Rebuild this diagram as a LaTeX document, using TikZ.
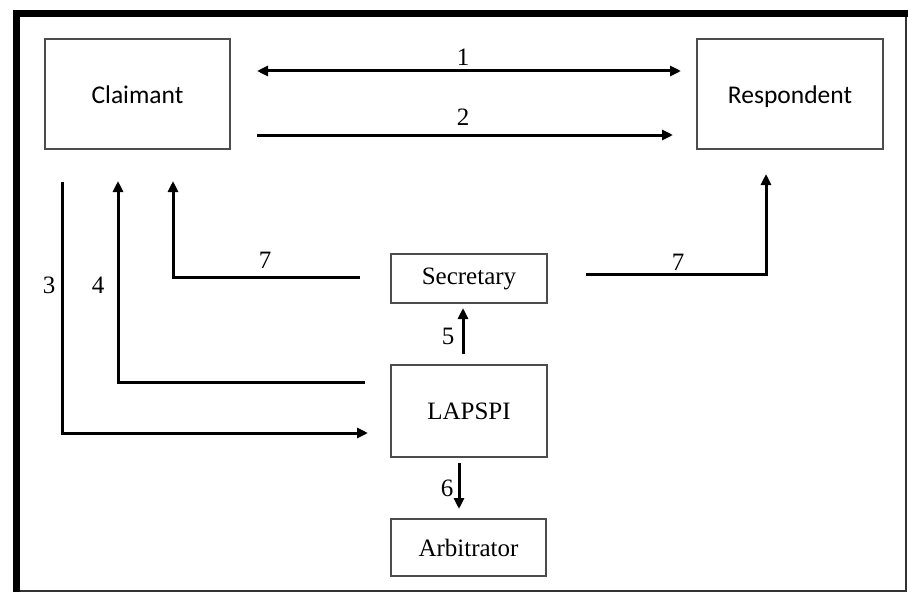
\documentclass[tikz,border=0pt]{standalone}
\usepackage{fontspec}
\setmainfont{Liberation Serif}
\newfontfamily\calib{Carlito}
\usetikzlibrary{arrows.meta}
\begin{document}
\begin{tikzpicture}[x=1pt,y=-1pt,
  box/.style={draw=black!70,line width=1.2pt,inner sep=0pt,font=\fontsize{25}{28}\selectfont},
  sbox/.style={box,font=\calib\fontsize{25.5}{28}\selectfont,text height=20pt,text depth=2pt},
  conn/.style={line width=3pt,-{Triangle[length=11pt,width=10pt]}},
  lbl/.style={font=\fontsize{25}{28}\selectfont,inner sep=0pt}]
\useasboundingbox (0,0) rectangle (908,594);
% frame
\fill (13,10) rectangle (20,592);
\fill (13,10) rectangle (908,17);
\draw[line width=2pt,black!80] (906,17) -- (906,591) -- (20,591);
% nodes
\node[sbox,minimum width=185pt,minimum height=110pt] (claimant) at (137.5,94) {Claimant};
\node[sbox,minimum width=186pt,minimum height=110pt] (respondent) at (790,94) {Respondent};
\node[box,minimum width=156pt,minimum height=49pt] (secretary) at (469,278.5) {Secretary};
\node[box,minimum width=156pt,minimum height=92pt] (lapspi) at (469,411) {LAPSPI};
\node[box,minimum width=155pt,minimum height=57pt] (arbitrator) at (468.5,547.5) {Arbitrator};
% connector ends
\coordinate (a1s) at (257,71); \coordinate (a1e) at (681,71);
\coordinate (a2s) at (257,135); \coordinate (a2e) at (673,135);
\coordinate (a3s) at (62,182); \coordinate (a3e) at (368,433);
\coordinate (a4s) at (365,382); \coordinate (a4e) at (118,181);
\coordinate (a7ls) at (360,277); \coordinate (a7le) at (173,181);
\coordinate (a7rs) at (586,274); \coordinate (a7re) at (766,174);
\coordinate (a5s) at (463,354); \coordinate (a5e) at (463,308);
\coordinate (a6s) at (459,463); \coordinate (a6e) at (459,509);
% connectors
\draw[line width=3pt,{Triangle[length=11pt,width=10pt]}-{Triangle[length=11pt,width=10pt]}] (a1s) -- (a1e);
\draw[conn] (a2s) -- (a2e);
\draw[conn] (a3s) |- (a3e);
\draw[conn] (a4s) -| (a4e);
\draw[conn] (a7ls) -| (a7le);
\draw[conn] (a7rs) -| (a7re);
\draw[conn] (a5s) -- (a5e);
\draw[conn] (a6s) -- (a6e);
% labels
\node[lbl] (l1) at (463,57) {1};
\node[lbl] (l2) at (463,117) {2};
\node[lbl] (l3) at (49,285) {3};
\node[lbl] (l4) at (98,285) {4};
\node[lbl] (l7a) at (265,260) {7};
\node[lbl] (l7b) at (678,262) {7};
\node[lbl] (l5) at (448,336) {5};
\node[lbl] (l6) at (447,488) {6};
\end{tikzpicture}
\end{document}
